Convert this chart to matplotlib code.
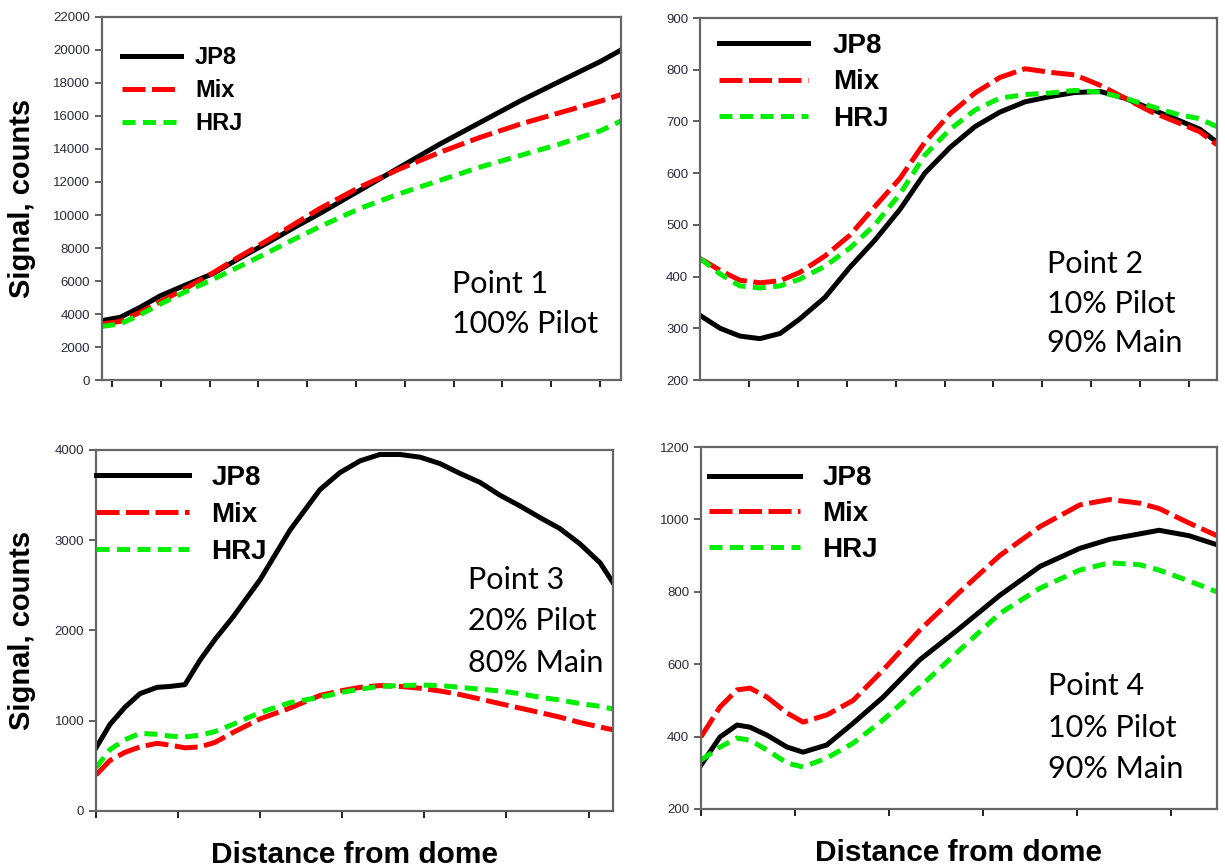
import matplotlib.pyplot as plt

plt.rcParams['font.family'] = ['Liberation Sans', 'DejaVu Sans']

labels = ["JP8", "Mix", "HRJ"]

# distance from dome, as a fraction of each panel's width
dist_1 = [0, .035, .073, .112, .164, .214, .266, .318, .368, .42, .497, .574, .651, .728, .805, .882, .96, 1.0]
jp8_1 = [3600, 3800, 4400, 5100, 5800, 6450, 7400, 8300, 9200, 10100, 11500, 12900, 14300, 15600, 16900, 18100, 19300, 20000]
mix_1 = [3400, 3550, 4100, 4750, 5600, 6500, 7500, 8450, 9400, 10400, 11700, 12800, 13800, 14700, 15500, 16200, 16900, 17300]
hrj_1 = [3250, 3400, 3950, 4600, 5400, 6100, 6900, 7700, 8500, 9300, 10400, 11300, 12100, 12900, 13600, 14300, 15100, 15700]

dist_2 = [0, .039, .077, .116, .155, .193, .242, .29, .338, .387, .435, .484, .532, .58, .629, .677, .725, .774, .822, .87, .919, .967, 1.0]
jp8_2 = [325, 300, 285, 280, 290, 318, 360, 418, 470, 530, 600, 650, 690, 718, 738, 748, 756, 758, 745, 725, 705, 685, 660]
mix_2 = [435, 412, 393, 388, 392, 408, 440, 480, 535, 590, 660, 715, 755, 785, 802, 795, 790, 770, 745, 720, 700, 680, 655]
hrj_2 = [435, 405, 382, 378, 382, 395, 420, 455, 500, 560, 635, 685, 722, 745, 752, 755, 760, 757, 745, 730, 715, 705, 690]

dist_3 = [0, .027, .056, .085, .118, .143, .172, .201, .23, .265, .317, .375, .433, .472, .511, .549, .588, .627, .665, .704, .743, .781, .82, .859, .897, .936, .975, 1.0]
jp8_3 = [700, 960, 1150, 1300, 1370, 1380, 1400, 1670, 1900, 2150, 2560, 3110, 3560, 3750, 3880, 3950, 3950, 3920, 3850, 3740, 3640, 3500, 3380, 3250, 3130, 2960, 2750, 2530]
mix_3 = [400, 560, 650, 710, 750, 730, 700, 710, 760, 870, 1020, 1140, 1280, 1330, 1370, 1390, 1380, 1360, 1330, 1290, 1240, 1190, 1140, 1090, 1040, 980, 930, 900]
hrj_3 = [480, 680, 790, 860, 850, 830, 820, 840, 880, 960, 1090, 1200, 1260, 1310, 1350, 1380, 1390, 1395, 1390, 1370, 1350, 1330, 1300, 1260, 1230, 1190, 1160, 1130]

dist_4 = [0, .037, .07, .095, .128, .167, .198, .244, .295, .353, .424, .502, .579, .657, .734, .792, .85, .888, .946, 1.0]
jp8_4 = [321, 399, 432, 426, 404, 371, 357, 377, 437, 509, 612, 700, 790, 870, 920, 945, 960, 970, 955, 930]
mix_4 = [399, 482, 529, 534, 509, 465, 440, 460, 500, 584, 694, 800, 900, 980, 1040, 1055, 1045, 1030, 990, 955]
hrj_4 = [335, 371, 396, 390, 363, 327, 316, 341, 382, 446, 537, 640, 740, 810, 860, 880, 875, 860, 830, 800]

notes = [["Point 1", "100% Pilot"],
         ["Point 2", "10% Pilot", "90% Main"],
         ["Point 3", "20% Pilot", "80% Main"],
         ["Point 4", "10% Pilot", "90% Main"]]

colors = ["black", "#ff0000", "#00ee00"]
dashes = [None, (4.6, 1.3), (2.6, 1.5)]

fig = plt.figure(figsize=(12.25, 8.67), dpi=100)

panels = [
    dict(rect=[0.0833, 0.5617, 0.4237, 0.4187], x=dist_1, ys=[jp8_1, mix_1, hrj_1],
         yt=range(0, 22001, 2000), xt=[0.0193 + k * 0.094 for k in range(11)],
         leg=(0.038, 0.92), lfs=17, hl=2.5, ls=0.42, tp=0.6,
         note=(0.675, 0.24, 0.11), ylab=-0.154, xlab=False),
    dict(rect=[0.5714, 0.5617, 0.422, 0.4175], x=dist_2, ys=[jp8_2, mix_2, hrj_2],
         yt=range(200, 901, 100), xt=[0.0948 + k * 0.0946 for k in range(10)],
         leg=(0.037, 0.959), lfs=20, hl=3.2, ls=0.38, tp=0.9,
         note=(0.671, 0.296, 0.11), ylab=None, xlab=False),
    dict(rect=[0.0784, 0.0646, 0.422, 0.4164], x=dist_3, ys=[jp8_3, mix_3, hrj_3],
         yt=range(0, 4001, 1000), xt=[k * 0.1588 for k in range(7)],
         leg=(0.0, 0.959), lfs=20, hl=3.35, ls=0.4, tp=0.8,
         note=(0.72, 0.615, 0.115), ylab=-0.143, xlab=True),
    dict(rect=[0.5722, 0.0669, 0.4212, 0.4175], x=dist_4, ys=[jp8_4, mix_4, hrj_4],
         yt=range(200, 1201, 200), xt=[k * 0.1822 for k in range(6)],
         leg=(0.015, 0.949), lfs=20, hl=3.3, ls=0.35, tp=0.8,
         note=(0.672, 0.315, 0.115), ylab=None, xlab=True),
]

for p, note in zip(panels, notes):
    ax = fig.add_axes(p["rect"])
    for y, lab, c, d in zip(p["ys"], labels, colors, dashes):
        line, = ax.plot(p["x"], y, color=c, lw=3.6, label=lab)
        if d is not None:
            line.set_dashes(d)
    ax.set_xlim(0, 1)
    ax.set_ylim(p["yt"][0], p["yt"][-1])
    ax.set_yticks(list(p["yt"]))
    ax.set_xticks(p["xt"])
    ax.set_xticklabels([])
    ax.tick_params(axis="y", labelsize=9.5, labelcolor="#2b2b3b", length=5, width=1.2, color="#444444")
    ax.tick_params(axis="x", length=5, width=1.4, color="#222222")
    for s in ax.spines.values():
        s.set_color("#666666")
        s.set_linewidth(1.6)

    ax.legend(loc="upper left", bbox_to_anchor=p["leg"], frameon=False,
              handlelength=p["hl"], handletextpad=p["tp"], labelspacing=p["ls"],
              borderpad=0, borderaxespad=0,
              prop=dict(family="Liberation Sans", weight="bold", size=p["lfs"]))

    nx, ny, step = p["note"]
    for i, t in enumerate(note):
        ax.text(nx, ny - i * step, t, transform=ax.transAxes, family="Lato",
                fontsize=22, ha="left", va="baseline")

    if p["ylab"] is not None:
        ax.set_ylabel("Signal, counts", fontsize=21, fontweight="bold", va="center")
        ax.yaxis.set_label_coords(p["ylab"], 0.5)
    if p["xlab"]:
        ax.set_xlabel("Distance from dome", fontsize=21.5, fontweight="bold", va="top")
        ax.xaxis.set_label_coords(0.5, -0.082)

plt.savefig("out.png", dpi=100)
